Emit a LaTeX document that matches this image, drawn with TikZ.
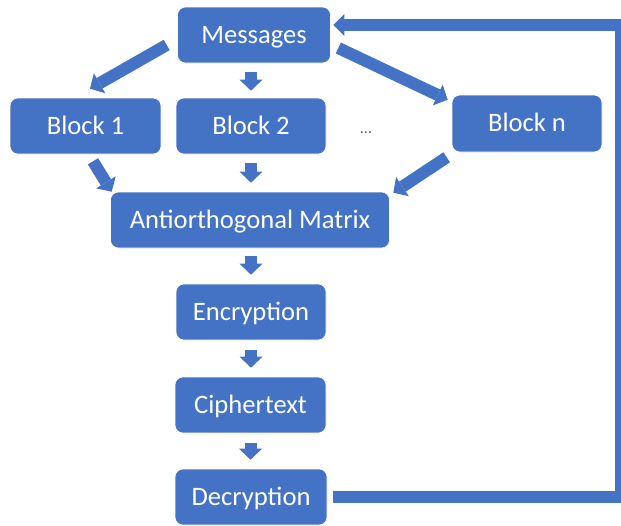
\documentclass[tikz,border=0pt]{standalone}
\usepackage{fontspec}
\setmainfont{Carlito}
\usetikzlibrary{arrows.meta,calc}
\definecolor{boxblue}{HTML}{4472C4}
\definecolor{dotgray}{HTML}{595959}
\begin{document}
\begin{tikzpicture}[x=1pt,y=-1pt,
  flowbox/.style={draw=white, line width=0.6pt, fill=boxblue, rounded corners=8pt,
    text=white, font=\fontsize{26.6}{31}\selectfont, minimum width=#1,
    minimum height=56pt, text height=16.8pt, text depth=0pt, inner sep=0pt},
  flowbox/.default=150pt,
  dotstext/.style={text=dotgray, font=\fontsize{16}{19}\selectfont, anchor=base, inner sep=0pt},
  blockarrow/.style={draw=boxblue, line width=12pt,
    -{Triangle[length=11pt,width=23pt,line width=0pt]}},
  feedback/.style={draw=boxblue, line width=11.5pt, line join=miter,
    -{Triangle[length=11pt,width=22pt,line width=0pt]}}
]
\useasboundingbox (0,0) rectangle (621,525);

\node[flowbox=153pt] (msg) at (254,35) {Messages};
\node[flowbox=151pt] (b1) at (85.5,126) {Block 1};
\node[flowbox=150pt] (b2) at (251,126) {Block 2};
\node[dotstext] (dots) at (366,133) {...};
\node[flowbox=150pt, minimum height=57pt] (bn) at (527,123.5) {Block n};
\node[flowbox=279pt] (am) at (250,220) {Antiorthogonal Matrix};
\node[flowbox=150pt] (enc) at (251,312) {Encryption};
\node[flowbox=151pt] (cip) at (250.5,405) {Ciphertext};
\node[flowbox=152pt] (dec) at (251,497) {Decryption};
\coordinate (rc) at (621,260);

% diagonal arrows
\draw[blockarrow] ([xshift=-10.5pt,yshift=-10pt]msg.west) -- ([xshift=4.5pt,yshift=9pt]b1.north);
\draw[blockarrow] ([xshift=7.5pt,yshift=-13pt]msg.east) -- ([xshift=-4pt,yshift=-5pt]bn.north west);
\draw[blockarrow] ([xshift=7.5pt,yshift=-7pt]b1.south) -- ([xshift=1.5pt]am.north west);
\draw[blockarrow] ([xshift=-5pt,yshift=-5pt]bn.south west) -- ([xshift=3.5pt,yshift=-1pt]am.north east);

% short vertical arrows
\draw[blockarrow, shorten <=9pt, shorten >=7pt] (msg.south -| b2.north) -- (b2.north);
\draw[blockarrow, shorten <=9pt, shorten >=9pt] (b2.south) -- (b2.south |- am.north);
\draw[blockarrow, shorten <=8pt, shorten >=9pt] (am.south -| enc.north) -- (enc.north);
\draw[blockarrow, shorten <=10pt, shorten >=9pt] (enc.south) -- (cip.north -| enc.south);
\draw[blockarrow, shorten <=10pt, shorten >=9pt] (cip.south) -- (dec.north -| cip.south);

% feedback loop
\draw[feedback] ([xshift=6pt]dec.east) -| (rc) |- ([xshift=2.5pt,yshift=10pt]msg.east);
\end{tikzpicture}
\end{document}
